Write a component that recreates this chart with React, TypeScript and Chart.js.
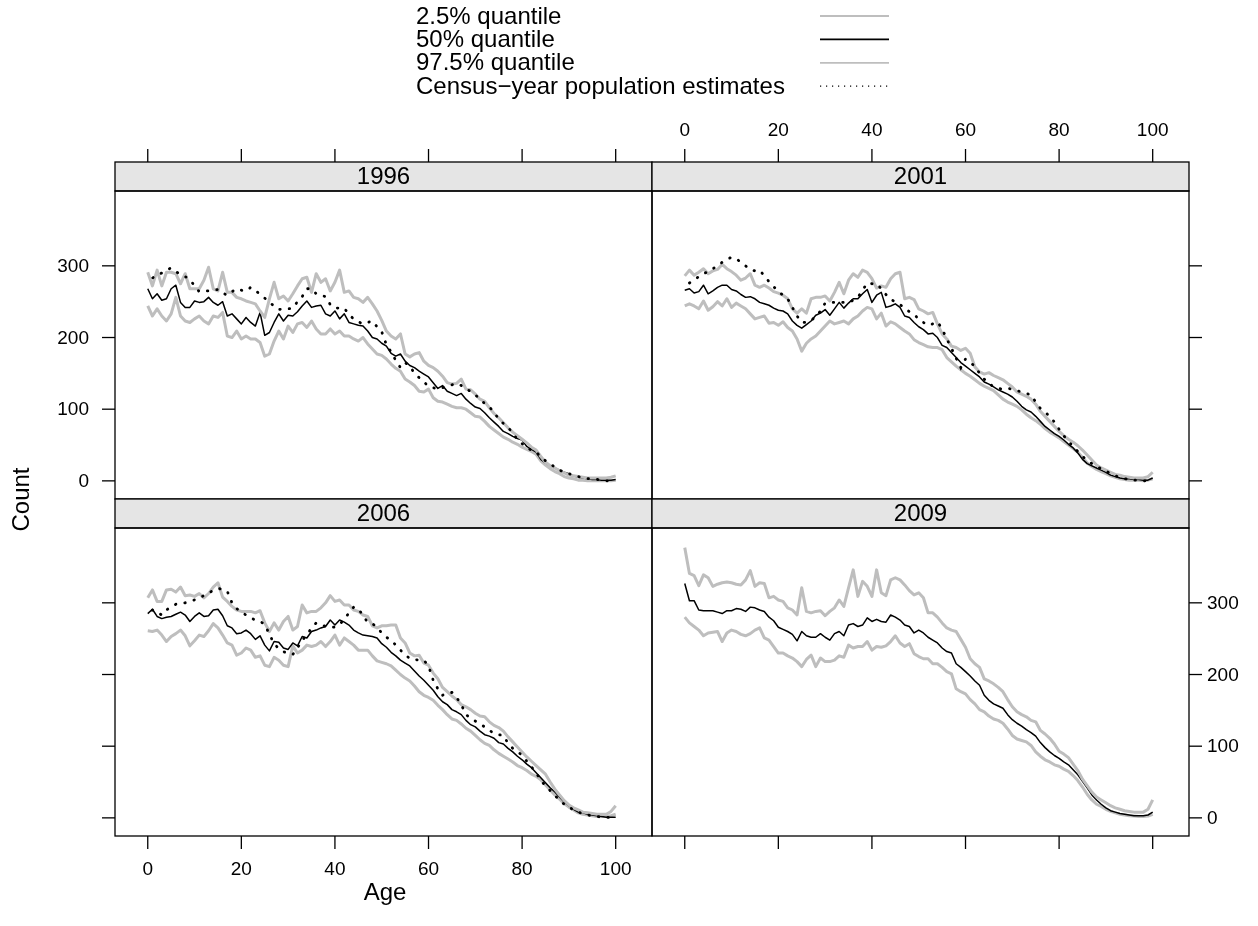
import React, { useEffect, useRef } from "react";
import { Chart, registerables } from "chart.js";

Chart.register(...registerables);

// ---------- data ----------
const AGES: number[] = Array.from({ length: 101 }, (_, i) => i);
const X_TICKS = [0, 20, 40, 60, 80, 100];
const Y_TICKS = [0, 100, 200, 300];
const YEARS = ["1996", "2001", "2006", "2009"];
const LEGEND_LABELS = [
  "2.5% quantile",
  "50% quantile",
  "97.5% quantile",
  "Census\u2212year population estimates",
];
const X_LABEL = "Age";
const Y_LABEL = "Count";

const Q975_1996 = [291,272,294,272,291,291,289,275,289,268,
 268,268,280,298,268,265,291,263,263,256,
 254,251,249,247,237,228,254,277,254,258,
 251,261,272,282,284,263,289,277,282,265,
 277,294,263,265,256,254,249,256,247,237,
 224,209,202,198,205,177,173,177,179,167,
 161,158,153,146,137,135,136,142,128,127,
 121,114,111,102,94,88,81,74,68,63,
 58,53,47,43,34,26,21,18,14,11,
 8,7,6,5,4,4,4,4,4,5,7];
const Q50_1996 = [268,254,261,252,254,268,273,249,242,242,
 251,249,250,256,249,245,250,230,233,226,
 219,228,221,216,235,203,207,221,233,223,
 231,230,236,244,251,242,244,245,233,230,
 237,226,233,221,219,217,216,209,200,198,
 192,188,178,174,177,167,161,158,153,149,
 145,137,129,133,125,122,119,122,114,108,
 103,101,95,88,82,76,69,66,62,59,
 57,48,44,40,30,25,21,18,15,12,
 10,7,5,4,3,2,2,1,1,1,2];
const Q025_1996 = [244,230,240,230,223,233,256,230,223,221,
 226,230,223,219,230,228,235,202,200,209,
 198,202,198,198,193,174,177,195,209,198,
 216,207,219,221,214,223,212,205,205,212,
 205,209,202,202,198,195,200,191,184,177,
 175,170,163,157,153,142,138,133,125,124,
 128,116,111,110,107,104,102,102,100,95,
 90,89,83,76,71,66,61,58,54,51,
 47,44,41,37,28,22,17,13,10,6,
 4,3,1,1,0,0,0,0,0,0,1];
const CENSUS_1996 = [280,283,287,290,294,297,292,288,285,281,
 272,264,265,265,266,267,262,259,264,268,
 266,265,270,266,260,255,249,244,239,240,
 240,241,250,257,268,268,261,259,257,246,
 241,241,241,232,226,222,219,221,223,215,
 208,190,180,168,158,165,160,150,144,138,
 132,130,128,130,132,134,136,133,128,125,
 120,114,108,103,96,86,80,75,66,58,
 52,46,43,40,34,28,24,19,15,12,
 10,8,6,4,3,3,2,1,0,0,0];

const Q975_2001 = [286,294,287,291,296,289,293,295,302,296,
 292,287,280,283,289,273,270,273,269,264,
 262,259,254,240,234,240,234,254,256,256,
 258,251,263,277,261,280,289,284,294,291,
 282,269,272,270,282,289,291,254,256,253,
 240,237,233,235,219,205,198,188,186,182,
 185,178,159,152,149,151,147,144,141,136,
 131,124,121,118,114,107,97,90,83,76,
 69,63,58,54,49,43,36,29,22,18,
 15,12,9,8,6,5,4,4,4,6,12];
const Q50_2001 = [266,268,262,264,273,261,265,270,273,273,
 267,265,260,256,257,254,249,247,245,241,
 238,237,233,223,217,213,218,223,231,234,
 239,231,240,249,241,248,254,254,261,267,
 249,259,263,242,244,247,242,230,228,221,
 215,211,205,206,200,189,186,179,172,165,
 160,155,150,145,138,135,131,127,124,121,
 117,111,104,99,96,90,83,76,71,66,
 62,57,51,46,39,30,24,21,18,15,
 12,8,6,4,3,3,2,2,1,1,4];
const Q025_2001 = [244,247,244,240,251,238,243,250,244,254,
 242,248,244,240,233,226,228,230,220,221,
 217,222,214,209,198,181,192,198,202,209,
 216,223,219,221,223,219,226,230,237,242,
 240,226,234,216,222,219,214,209,205,197,
 193,190,187,186,186,183,172,166,160,155,
 150,146,141,136,132,129,126,120,114,110,
 107,104,99,93,88,84,79,73,68,64,
 60,55,50,45,40,33,25,20,16,13,
 10,7,5,3,2,1,1,1,0,1,3];
const CENSUS_2001 = [272,276,280,285,289,292,296,300,305,309,
 312,310,305,300,295,293,294,286,278,271,
 264,259,254,242,230,221,221,224,229,237,
 248,249,249,249,249,249,252,256,266,276,
 275,275,268,260,253,250,246,241,236,232,
 226,221,217,219,222,212,198,185,171,158,
 170,165,160,150,142,135,132,129,128,129,
 128,126,124,122,120,110,101,96,90,82,
 72,63,55,48,41,34,29,24,20,17,
 14,10,7,5,3,2,1,1,0,0,0];

const Q975_2006 = [307,318,302,302,318,319,315,322,310,311,
 309,313,307,313,322,328,308,302,295,290,
 288,288,288,286,289,272,260,272,262,274,
 281,262,267,297,286,288,288,293,300,310,
 302,304,297,297,290,288,283,281,268,265,
 268,268,269,269,251,244,230,226,227,216,
 213,202,194,182,176,170,165,158,155,151,
 146,142,141,134,129,126,121,113,106,99,
 92,85,79,73,67,61,50,40,32,24,
 18,14,11,8,7,6,5,5,5,9,17];
const Q50_2006 = [285,291,281,278,280,281,284,287,283,274,
 281,286,281,282,290,291,282,268,265,257,
 258,262,257,249,254,241,233,246,245,237,
 235,244,240,253,251,260,262,265,267,276,
 269,276,273,269,262,258,255,254,253,251,
 243,238,231,226,220,216,212,205,198,192,
 185,178,169,162,158,151,148,144,136,130,
 127,121,116,114,111,105,103,97,92,86,
 81,75,70,63,56,49,42,36,29,22,
 17,12,8,7,5,4,3,2,1,1,1];
const Q025_2006 = [261,260,262,255,246,253,257,262,254,240,
 247,255,253,261,271,265,255,244,241,227,
 230,237,234,224,226,213,211,224,220,213,
 211,240,230,234,241,239,241,246,239,246,
 255,241,251,246,241,234,234,234,226,219,
 217,215,212,206,200,195,191,184,176,171,
 168,164,157,151,144,138,136,131,125,121,
 115,109,104,101,95,90,86,82,78,73,
 70,66,61,58,53,46,39,32,26,20,
 15,11,7,5,4,3,2,2,2,3,5];
const CENSUS_2006 = [285,290,287,283,290,295,298,299,300,302,
 304,307,310,314,317,320,319,316,300,292,
 287,283,279,276,274,270,256,243,236,232,
 229,228,237,248,255,265,272,270,267,266,
 266,270,277,286,294,292,282,273,271,266,
 258,252,248,241,234,228,222,221,220,220,
 212,192,180,171,174,175,168,158,144,139,
 135,131,127,122,118,116,115,104,97,93,
 87,79,71,63,52,45,38,31,25,19,
 15,11,8,6,4,3,2,1,1,0,0];

const Q975_2009 = [377,341,338,324,339,335,323,326,328,329,
 328,326,325,332,345,323,328,327,307,309,
 304,302,293,290,283,321,288,286,288,289,
 282,288,293,304,295,321,346,309,330,323,
 309,346,314,310,332,335,332,325,317,311,
 314,307,286,286,280,272,265,262,260,249,
 238,222,215,210,194,191,187,182,176,165,
 155,148,144,141,136,134,122,117,111,103,
 93,89,84,75,66,54,45,36,29,25,
 21,17,14,12,10,9,8,8,8,12,25];
const Q50_2009 = [327,303,303,290,289,289,289,287,285,289,
 289,292,291,288,294,293,290,288,280,275,
 266,263,260,256,247,260,254,252,252,257,
 252,248,257,260,254,269,271,267,269,279,
 274,277,274,273,283,280,276,269,267,258,
 262,258,252,248,244,237,232,230,215,210,
 204,198,191,185,171,164,159,156,153,144,
 137,132,128,123,119,114,105,98,92,87,
 83,78,74,67,60,51,42,32,25,19,
 14,10,8,6,5,4,3,3,3,4,8];
const Q025_2009 = [280,272,267,262,254,258,259,260,246,258,
 262,260,256,254,257,262,265,251,248,239,
 230,230,226,223,218,211,221,227,211,223,
 218,218,220,226,224,241,237,239,239,246,
 234,239,238,240,246,254,244,239,243,229,
 225,222,222,215,215,210,204,201,180,176,
 173,165,159,151,148,142,138,136,132,124,
 115,110,108,106,101,92,86,81,78,74,
 72,68,65,59,52,43,33,25,19,16,
 12,9,7,5,4,3,2.5,2,2,2.5,5];

// ---------- layout / style ----------
const W = 1258;
const H = 926;
const FONT = '"Liberation Sans", Arial, Helvetica, sans-serif';
const MAIN_FONT = `24px ${FONT}`;
const TICK_FONT = `19px ${FONT}`;
const X_MIN = -7;
const X_MAX = 107.76;
const Y_MIN = -25.3;
const Y_MAX = 404.4;
const COLS: [number, number][] = [[115, 652], [652, 1189]];
const ROWS: [number, number][] = [[191, 499], [528, 836]];
const STRIP_H = 29;
const TICK_LEN = 13;
const GRAY = "#bebebe";
const STRIP_BG = "#e5e5e5";

type Side = "none" | "ticks" | "labels";
interface PanelDef {
  year: string;
  col: number;
  row: number;
  q025: number[];
  q50: number[];
  q975: number[];
  census: number[] | null;
  top: Side;
  bottom: Side;
  left: Side;
  right: Side;
}

const PANELS: PanelDef[] = [
  { year: YEARS[0], col: 0, row: 0, q025: Q025_1996, q50: Q50_1996, q975: Q975_1996, census: CENSUS_1996, top: "ticks", bottom: "none", left: "labels", right: "none" },
  { year: YEARS[1], col: 1, row: 0, q025: Q025_2001, q50: Q50_2001, q975: Q975_2001, census: CENSUS_2001, top: "labels", bottom: "none", left: "none", right: "ticks" },
  { year: YEARS[2], col: 0, row: 1, q025: Q025_2006, q50: Q50_2006, q975: Q975_2006, census: CENSUS_2006, top: "none", bottom: "labels", left: "ticks", right: "none" },
  { year: YEARS[3], col: 1, row: 1, q025: Q025_2009, q50: Q50_2009, q975: Q975_2009, census: null, top: "none", bottom: "ticks", left: "none", right: "labels" },
];

const toPts = (arr: number[]) => AGES.map((a, i) => ({ x: a, y: arr[i] }));

const panelPlugin = {
  id: "panelDecor",
  afterDraw(chart: any, _args: any, opts: any) {
    const def: PanelDef = opts.def;
    const { ctx, chartArea: a } = chart;
    const xs = chart.scales.x;
    const ys = chart.scales.y;
    const sTop = a.top - STRIP_H;
    ctx.save();
    ctx.fillStyle = STRIP_BG;
    ctx.fillRect(a.left, sTop, a.right - a.left, STRIP_H);
    ctx.strokeStyle = "#000";
    ctx.lineWidth = 1.3;
    ctx.strokeRect(a.left, sTop, a.right - a.left, STRIP_H);
    ctx.strokeRect(a.left, a.top, a.right - a.left, a.bottom - a.top);
    ctx.fillStyle = "#000";
    ctx.font = MAIN_FONT;
    ctx.textAlign = "center";
    ctx.textBaseline = "middle";
    ctx.fillText(def.year, (a.left + a.right) / 2, sTop + STRIP_H / 2 + 1);

    ctx.font = TICK_FONT;
    ctx.lineWidth = 1.3;
    if (def.top !== "none") {
      X_TICKS.forEach((t) => {
        const x = xs.getPixelForValue(t);
        ctx.beginPath();
        ctx.moveTo(x, sTop);
        ctx.lineTo(x, sTop - TICK_LEN);
        ctx.stroke();
        if (def.top === "labels") {
          ctx.textAlign = "center";
          ctx.textBaseline = "middle";
          ctx.fillText(String(t), x, sTop - TICK_LEN - 18);
        }
      });
    }
    if (def.bottom !== "none") {
      X_TICKS.forEach((t) => {
        const x = xs.getPixelForValue(t);
        ctx.beginPath();
        ctx.moveTo(x, a.bottom);
        ctx.lineTo(x, a.bottom + TICK_LEN);
        ctx.stroke();
        if (def.bottom === "labels") {
          ctx.textAlign = "center";
          ctx.textBaseline = "middle";
          ctx.fillText(String(t), x, a.bottom + TICK_LEN + 21);
        }
      });
    }
    if (def.left !== "none") {
      Y_TICKS.forEach((t) => {
        const y = ys.getPixelForValue(t);
        ctx.beginPath();
        ctx.moveTo(a.left, y);
        ctx.lineTo(a.left - TICK_LEN, y);
        ctx.stroke();
        if (def.left === "labels") {
          ctx.textAlign = "right";
          ctx.textBaseline = "middle";
          ctx.fillText(String(t), a.left - TICK_LEN - 13, y + 1);
        }
      });
    }
    if (def.right !== "none") {
      Y_TICKS.forEach((t) => {
        const y = ys.getPixelForValue(t);
        ctx.beginPath();
        ctx.moveTo(a.right, y);
        ctx.lineTo(a.right + TICK_LEN, y);
        ctx.stroke();
        if (def.right === "labels") {
          ctx.textAlign = "left";
          ctx.textBaseline = "middle";
          ctx.fillText(String(t), a.right + TICK_LEN + 5, y + 1);
        }
      });
    }
    ctx.restore();
  },
};

const LEGEND_STYLES = [
  { color: GRAY, width: 1.8, dash: [] as number[] },
  { color: "#000", width: 1.6, dash: [] as number[] },
  { color: GRAY, width: 1.8, dash: [] as number[] },
  { color: "#000", width: 1.2, dash: [1.2, 4.8] },
];

const pagePlugin = {
  id: "pageDecor",
  afterDraw(chart: any) {
    const ctx = chart.ctx;
    ctx.save();
    ctx.fillStyle = "#000";
    ctx.font = MAIN_FONT;
    ctx.textBaseline = "middle";
    ctx.textAlign = "left";
    LEGEND_LABELS.forEach((label, i) => {
      const y = 16 + i * 23.4;
      ctx.fillText(label, 416, y + 1);
      const st = LEGEND_STYLES[i];
      ctx.beginPath();
      ctx.strokeStyle = st.color;
      ctx.lineWidth = st.width;
      ctx.setLineDash(st.dash);
      ctx.moveTo(820, y);
      ctx.lineTo(889, y);
      ctx.stroke();
      ctx.setLineDash([]);
    });
    ctx.textAlign = "center";
    ctx.fillText(X_LABEL, 385, 893);
    ctx.translate(22, 499.5);
    ctx.rotate(-Math.PI / 2);
    ctx.fillText(Y_LABEL, 0, 0);
    ctx.restore();
  },
};

function Panel({ def, withPage }: { def: PanelDef; withPage: boolean }) {
  const ref = useRef<HTMLCanvasElement>(null);
  useEffect(() => {
    const [l, r] = COLS[def.col];
    const [t, b] = ROWS[def.row];
    const datasets: any[] = [];
    if (def.census) {
      datasets.push({
        data: toPts(def.census),
        borderColor: "#000",
        borderWidth: 2.8,
        borderDash: [0.5, 9],
        borderDashOffset: 4,
        borderCapStyle: "round",
        pointRadius: 0,
        tension: 0,
      });
    }
    datasets.push(
      { data: toPts(def.q975), borderColor: GRAY, borderWidth: 3, pointRadius: 0, tension: 0, borderJoinStyle: "round" },
      { data: toPts(def.q50), borderColor: "#000", borderWidth: 1.5, pointRadius: 0, tension: 0, borderJoinStyle: "round" },
      { data: toPts(def.q025), borderColor: GRAY, borderWidth: 3, pointRadius: 0, tension: 0, borderJoinStyle: "round" }
    );
    const chart = new Chart(ref.current!, {
      type: "line",
      data: { datasets },
      options: {
        animation: false,
        responsive: false,
        devicePixelRatio: 1,
        events: [],
        layout: {
          autoPadding: false,
          padding: { left: l, right: W - r, top: t, bottom: H - b },
        },
        scales: {
          x: { type: "linear", min: X_MIN, max: X_MAX, display: false },
          y: { type: "linear", min: Y_MIN, max: Y_MAX, display: false },
        },
        plugins: {
          legend: { display: false },
          tooltip: { enabled: false },
          panelDecor: { def },
        } as any,
      },
      plugins: withPage ? [panelPlugin, pagePlugin] : [panelPlugin],
    } as any);
    return () => chart.destroy();
  }, [def, withPage]);
  return (
    <canvas
      ref={ref}
      width={W}
      height={H}
      style={{ position: "absolute", left: 0, top: 0, width: W, height: H }}
    />
  );
}

export default function App() {
  return (
    <div style={{ position: "absolute", left: 0, top: 0, width: W, height: H, background: "#fff" }}>
      {PANELS.map((p, i) => (
        <Panel key={p.year} def={p} withPage={i === 0} />
      ))}
    </div>
  );
}
